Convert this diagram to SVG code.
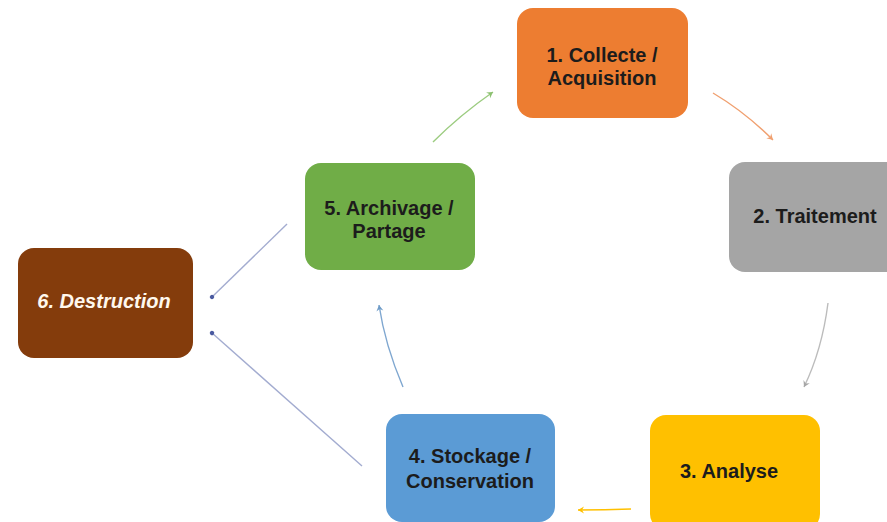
<svg xmlns="http://www.w3.org/2000/svg" width="887" height="522" viewBox="0 0 887 522">
<defs>
<style>
.box{stroke:none}
.t{font-family:"Liberation Sans",Arial,sans-serif;font-weight:bold;font-size:20px;fill:#1c1c1c;text-anchor:middle}
.ti{font-family:"Liberation Sans",Arial,sans-serif;font-weight:bold;font-style:italic;font-size:20px;fill:#fff8ee;text-anchor:middle}
.c{fill:none;stroke-width:1.4}
</style>
<marker id="mo" markerWidth="9" markerHeight="9" refX="7" refY="4.5" orient="auto" markerUnits="userSpaceOnUse"><path d="M1,1 L7,4.5 L1,8 L3,4.5 Z" fill="#f0a070"/></marker>
<marker id="mg" markerWidth="9" markerHeight="9" refX="7" refY="4.5" orient="auto" markerUnits="userSpaceOnUse"><path d="M1,1 L7,4.5 L1,8 L3,4.5 Z" fill="#a6a6a6"/></marker>
<marker id="my" markerWidth="9" markerHeight="9" refX="7" refY="4.5" orient="auto" markerUnits="userSpaceOnUse"><path d="M1,1 L7,4.5 L1,8 L3,4.5 Z" fill="#ffc000"/></marker>
<marker id="mb" markerWidth="9" markerHeight="9" refX="7" refY="4.5" orient="auto" markerUnits="userSpaceOnUse"><path d="M1,1 L7,4.5 L1,8 L3,4.5 Z" fill="#6f9cc8"/></marker>
<marker id="mgr" markerWidth="9" markerHeight="9" refX="7" refY="4.5" orient="auto" markerUnits="userSpaceOnUse"><path d="M1,1 L7,4.5 L1,8 L3,4.5 Z" fill="#8cc070"/></marker>
<marker id="md" markerWidth="6" markerHeight="6" refX="3" refY="3" orient="auto" markerUnits="userSpaceOnUse"><circle cx="3" cy="3" r="2.2" fill="#4a5aa0"/></marker>
</defs>
<rect width="887" height="522" fill="#ffffff"/>
<g id="connectors">
<path class="c" d="M713,93 Q745,112 773,140" stroke="#f0a070" marker-end="url(#mo)"/>
<path class="c" d="M828,303 Q822,350 804,387" stroke="#bcbcbc" marker-end="url(#mg)"/>
<path class="c" d="M631,509 Q605,510 578,510" stroke="#ffc000" stroke-width="1.8" marker-end="url(#my)"/>
<path class="c" d="M403,387 Q385,345 379,305" stroke="#7fa7d0" marker-end="url(#mb)"/>
<path class="c" d="M433,142 Q460,115 493,92" stroke="#9ccc80" marker-end="url(#mgr)"/>
<path class="c" d="M287,224 L212,297" stroke="#a3acd0" stroke-width="1.2" marker-end="url(#md)"/>
<path class="c" d="M362,466 L212,333" stroke="#a3acd0" stroke-width="1.2" marker-end="url(#md)"/>
</g>
<g id="n1">
<rect class="box" x="517" y="8" width="171" height="110" rx="16" fill="#ed7d31"/>
<text class="t" x="602" y="62">1. Collecte /</text>
<text class="t" x="602" y="85">Acquisition</text>
</g>
<g id="n2">
<rect class="box" x="729" y="162" width="172" height="110" rx="16" fill="#a5a5a5"/>
<text class="t" x="815" y="223">2. Traitement</text>
</g>
<g id="n3">
<rect class="box" x="650" y="415" width="170" height="115" rx="16" fill="#ffc000"/>
<text class="t" x="729" y="478">3. Analyse</text>
</g>
<g id="n4">
<rect class="box" x="386" y="414" width="169" height="108" rx="16" fill="#5b9bd5"/>
<text class="t" x="470" y="463">4. Stockage /</text>
<text class="t" x="470" y="488">Conservation</text>
</g>
<g id="n5">
<rect class="box" x="305" y="163" width="170" height="107" rx="16" fill="#70ad47"/>
<text class="t" x="389" y="215">5. Archivage /</text>
<text class="t" x="389" y="238">Partage</text>
</g>
<g id="n6">
<rect class="box" x="18" y="248" width="175" height="110" rx="16" fill="#843c0c"/>
<text class="ti" x="104" y="308">6. Destruction</text>
</g>
</svg>
